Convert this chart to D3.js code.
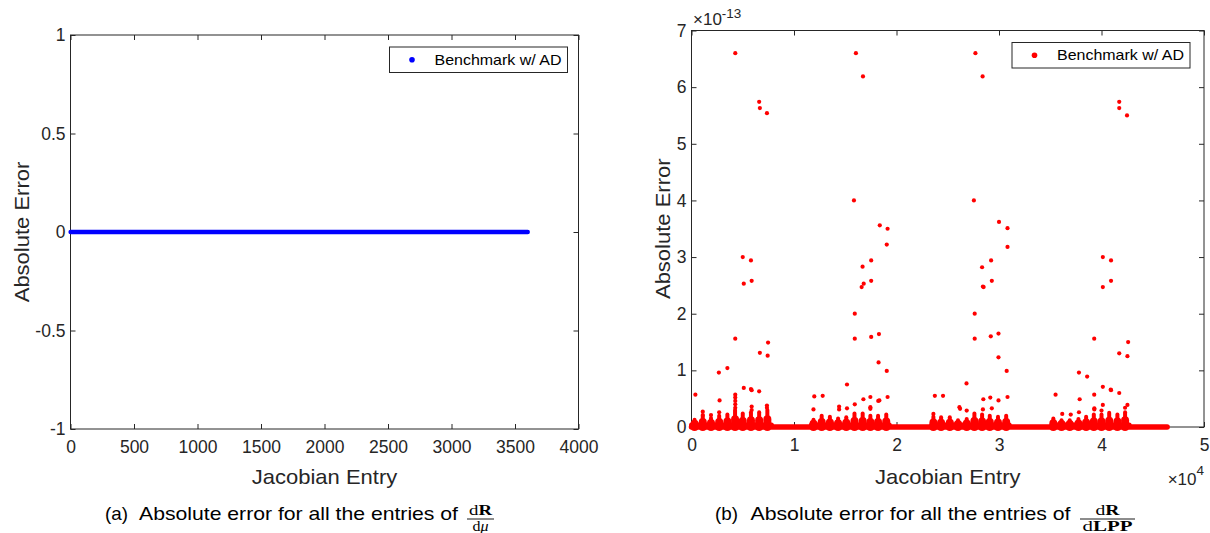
<!DOCTYPE html>
<html>
<head>
<meta charset="utf-8">
<script src="https://cdn.jsdelivr.net/npm/d3@7"></script>
<style>
body { margin: 0; background: #fff; }
text { font-family: "Liberation Sans", Arial, sans-serif; fill: #262626; }
text.math { font-family: "Liberation Serif", "Times New Roman", serif; fill: #000; }
text.cap { fill: #000; }
</style>
</head>
<body>
<svg id="fig" width="1210" height="533"></svg>
<script>
// ---------- data ----------
// (a) dR/dmu : every one of the 3600 Jacobian entries has zero error
const muEntryRange = [1, 3600];
const muError = 0;
const muTicksX = [0, 500, 1000, 1500, 2000, 2500, 3000, 3500, 4000];
const muTicksY = [-1, -0.5, 0, 0.5, 1];

// (b) dR/dLPP : entries in units of 1e4, errors in units of 1e-13
const lppEntryRange = [0.0001, 4.64];          // zero error everywhere as baseline
const lppTicksX = [0, 1, 2, 3, 4, 5];
const lppTicksY = [0, 1, 2, 3, 4, 5, 6, 7];
// four blocks of non-zero entries
const blockStart = [0.0, 1.17, 2.345, 3.52];
const blockEnd = [0.78, 1.93, 3.10, 4.27];
// dense little spikes inside the blocks (position, height of the solid part)
const spikePos = [
  0.03, 0.11, 0.19, 0.27, 0.35, 0.425, 0.50, 0.58, 0.66, 0.74,
  1.19, 1.27, 1.35, 1.43, 1.51, 1.59, 1.67, 1.745, 1.82, 1.90,
  2.36, 2.435, 2.52, 2.60, 2.685, 2.76, 2.835, 2.91, 2.99, 3.07,
  3.53, 3.61, 3.69, 3.775, 3.85, 3.925, 4.00, 4.075, 4.155, 4.23
];
const spikeHeight = [
  0.13, 0.20, 0.16, 0.20, 0.22, 0.30, 0.24, 0.26, 0.26, 0.30,
  0.13, 0.20, 0.18, 0.15, 0.17, 0.24, 0.24, 0.20, 0.20, 0.22,
  0.18, 0.17, 0.17, 0.12, 0.14, 0.24, 0.22, 0.20, 0.18, 0.20,
  0.15, 0.12, 0.12, 0.14, 0.18, 0.22, 0.22, 0.25, 0.22, 0.26
];
// isolated larger errors
const outlierX = [
  0.038, 0.427, 0.66, 0.667, 0.736, 0.50, 0.58, 0.51, 0.587, 0.427, 0.747, 0.667, 0.743, 0.267, 0.35,
  0.51, 0.58, 0.587, 0.66, 0.274, 0.427, 0.427, 0.427, 0.427, 0.427, 0.27, 0.11, 0.11, 0.19, 0.587, 0.587, 0.736, 0.736,
  1.198, 1.28, 1.19, 1.517, 1.604, 1.673, 1.585, 1.593, 1.593, 1.669, 1.68, 1.66, 1.753, 1.753, 1.837, 1.913,
  1.905, 1.753, 1.829, 1.825, 1.905, 1.913, 1.593, 1.677, 1.745, 1.822, 1.833, 1.44, 1.44, 1.517, 1.745, 1.745,
  2.374, 2.454, 2.683, 2.77, 2.84, 2.755, 2.763, 2.763, 2.835, 2.843, 2.85, 2.923, 2.93, 3.0, 3.083, 3.083,
  2.92, 2.995, 2.995, 3.075, 3.083, 2.847, 2.915, 2.995, 2.93, 2.614, 2.62, 2.843, 2.685, 2.36,
  3.552, 4.173, 4.173, 4.249, 4.013, 4.093, 4.013, 4.093, 3.929, 4.26, 4.173, 4.253, 3.78, 3.86, 4.013,
  4.09, 4.093, 4.173, 3.929, 3.787, 4.253, 4.013, 3.78, 3.93, 3.93, 3.617, 3.70, 4.00, 4.23
];
const outlierY = [
  0.57, 6.60, 5.74, 5.63, 5.54, 3.00, 2.94, 2.53, 2.58, 1.56, 1.49, 1.31, 1.26, 0.96, 1.04,
  0.69, 0.67, 0.65, 0.63, 0.47, 0.57, 0.52, 0.46, 0.40, 0.34, 0.26, 0.27, 0.21, 0.21, 0.36, 0.30, 0.38, 0.34,
  0.54, 0.55, 0.31, 0.75, 6.60, 6.19, 4.00, 2.00, 1.56, 2.83, 2.53, 2.47, 2.94, 2.58, 3.56, 3.50,
  3.22, 1.59, 1.64, 1.14, 0.99, 0.53, 0.40, 0.49, 0.53, 0.46, 0.47, 0.36, 0.31, 0.33, 0.35, 0.32,
  0.55, 0.55, 0.77, 6.60, 6.19, 4.00, 2.00, 1.56, 2.82, 2.48, 2.47, 2.94, 2.58, 3.62, 3.51, 3.18,
  1.60, 1.65, 1.23, 0.99, 0.53, 0.49, 0.52, 0.47, 0.33, 0.35, 0.32, 0.31, 0.29, 0.23,
  0.57, 5.74, 5.63, 5.50, 3.00, 2.94, 2.47, 2.58, 1.56, 1.50, 1.30, 1.25, 0.96, 0.89, 0.71,
  0.66, 0.65, 0.60, 0.57, 0.49, 0.39, 0.39, 0.26, 0.31, 0.33, 0.23, 0.22, 0.29, 0.34
];
const legendLabel = "Benchmark w/ AD";

// ---------- layout ----------
const axisColor = "#262626";
const panelA = {left: 70.5, right: 578.5, top: 35, bottom: 429};
const panelB = {left: 691.5, right: 1204, top: 30.5, bottom: 427};
const stretch = 1.1;   // the figure is a bit wider than tall

const svg = d3.select("#fig");

const xA = d3.scaleLinear().domain([0, 4000]).range([panelA.left, panelA.right]);
const yA = d3.scaleLinear().domain([-1, 1]).range([panelA.bottom, panelA.top]);
const xB = d3.scaleLinear().domain([0, 5]).range([panelB.left, panelB.right]);
const yB = d3.scaleLinear().domain([0, 7]).range([panelB.bottom, panelB.top]);

// box with inward ticks on all four sides, like MATLAB
function drawAxes(x, y, p, ticksX, ticksY) {
  const g = svg.append("g").attr("color", axisColor);
  const fmt = d => String(d);

  g.append("g").attr("transform", `translate(0,${p.bottom})`)
    .call(d3.axisBottom(x).tickValues(ticksX).tickFormat(fmt)
      .tickSizeInner(-5).tickSizeOuter(0).tickPadding(12));
  g.append("g").attr("transform", `translate(${p.left},0)`)
    .call(d3.axisLeft(y).tickValues(ticksY).tickFormat(fmt)
      .tickSizeInner(-5).tickSizeOuter(0).tickPadding(5));
  g.append("g").attr("transform", `translate(0,${p.top})`)
    .call(d3.axisTop(x).tickValues(ticksX).tickFormat("").tickSizeInner(-5).tickSizeOuter(0));
  g.append("g").attr("transform", `translate(${p.right},0)`)
    .call(d3.axisRight(y).tickValues(ticksY).tickFormat("").tickSizeInner(-5).tickSizeOuter(0));

  g.selectAll(".domain").remove();
  g.selectAll("g").attr("font-size", null).attr("font-family", null);
  g.selectAll(".tick text").style("font-size", "17.5px");

  g.append("rect")
    .attr("x", p.left).attr("y", p.top)
    .attr("width", p.right - p.left).attr("height", p.bottom - p.top)
    .attr("fill", "none").attr("stroke", axisColor).attr("stroke-width", 1);
}

function label(str, x, y, size, anchor, rotate) {
  return svg.append("text")
    .attr("transform", `translate(${x},${y})` + (rotate ? ` rotate(${rotate})` : "") + ` scale(${stretch},1)`)
    .attr("text-anchor", anchor)
    .attr("font-size", size)
    .text(str);
}

function legend(x0, y0, color) {
  const g = svg.append("g");
  g.append("rect").attr("x", x0).attr("y", y0).attr("width", 178).attr("height", 25.5)
    .attr("fill", "#fff").attr("stroke", axisColor).attr("stroke-width", 1);
  g.append("circle").attr("cx", x0 + 22.5).attr("cy", y0 + 12.7).attr("r", 2.8).attr("fill", color);
  g.append("text").attr("x", x0 + 45).attr("y", y0 + 17.8)
    .attr("font-size", 15).style("fill", "#000")
    .attr("textLength", 127).attr("lengthAdjust", "spacingAndGlyphs")
    .text(legendLabel);
}

// fraction in LaTeX style: parts are [text, weight, style]
function fraction(x0, x1, num, numWidth, den, denWidth) {
  const cx = (x0 + x1) / 2;
  const put = (parts, y, w) => {
    const t = svg.append("text").attr("class", "math").attr("x", cx).attr("y", y)
      .attr("text-anchor", "middle").attr("font-size", 14)
      .attr("textLength", w).attr("lengthAdjust", "spacingAndGlyphs");
    parts.forEach(p => t.append("tspan").attr("font-weight", p[1]).attr("font-style", p[2]).text(p[0]));
  };
  put(num, 515, numWidth);
  svg.append("line").attr("x1", x0).attr("x2", x1).attr("y1", 519).attr("y2", 519)
    .attr("stroke", "#000").attr("stroke-width", 0.9);
  put(den, 531, denWidth);
}

function caption(tag, x, xText, textWidth) {
  svg.append("text").attr("class", "cap").attr("x", x).attr("y", 520).attr("font-size", 18.5)
    .attr("textLength", 23).attr("lengthAdjust", "spacingAndGlyphs").text(tag);
  svg.append("text").attr("class", "cap").attr("x", xText).attr("y", 520).attr("font-size", 18.5)
    .attr("textLength", textWidth).attr("lengthAdjust", "spacingAndGlyphs")
    .text("Absolute error for all the entries of");
}

// ---------- panel (a) ----------
drawAxes(xA, yA, panelA, muTicksX, muTicksY);

svg.append("path")
  .datum(muEntryRange.map(e => [e, muError]))
  .attr("d", d3.line().x(d => xA(d[0])).y(d => yA(d[1])))
  .attr("stroke", "#0000ff").attr("stroke-width", 4.5).attr("stroke-linecap", "round").attr("fill", "none");

legend(389.5, 47, "#0000ff");
label("Absolute Error", 29, (panelA.top + panelA.bottom) / 2, 20, "middle", -90);
label("Jacobian Entry", (panelA.left + panelA.right) / 2, 484, 20, "middle");
caption("(a)", 105, 139, 319);
fraction(467, 494, [["d", "normal", "normal"], ["R", "bold", "normal"]], 23,
  [["d", "normal", "normal"], ["\u03bc", "normal", "italic"]], 16);

// ---------- panel (b) ----------
drawAxes(xB, yB, panelB, lppTicksX, lppTicksY);

const red = "#ff0000";
const marks = svg.append("g").attr("stroke", red).attr("stroke-linecap", "round").attr("fill", "none");

// zero-error entries
marks.append("path")
  .datum(lppEntryRange.map(e => [e, 0]))
  .attr("d", d3.line().x(d => xB(d[0])).y(d => yB(d[1])))
  .attr("stroke-width", 5.5);

// thicker ragged band inside each block
marks.selectAll("line.block").data(d3.zip(blockStart, blockEnd)).join("line")
  .attr("class", "block")
  .attr("x1", d => xB(d[0])).attr("x2", d => xB(d[1]))
  .attr("y1", yB(0.035)).attr("y2", yB(0.035))
  .attr("stroke-width", 5);

// spikes: wide foot and narrow stem
const spikes = d3.zip(spikePos, spikeHeight);
marks.selectAll("line.foot").data(spikes).join("line")
  .attr("class", "foot")
  .attr("x1", d => xB(d[0])).attr("x2", d => xB(d[0]))
  .attr("y1", yB(0)).attr("y2", d => yB(d[1] * 0.45))
  .attr("stroke-width", 8);
marks.selectAll("line.stem").data(spikes).join("line")
  .attr("class", "stem")
  .attr("x1", d => xB(d[0])).attr("x2", d => xB(d[0]))
  .attr("y1", yB(0)).attr("y2", d => yB(d[1]))
  .attr("stroke-width", 4);

svg.append("g").selectAll("circle").data(d3.zip(outlierX, outlierY)).join("circle")
  .attr("cx", d => xB(d[0])).attr("cy", d => yB(d[1]))
  .attr("r", 2.1).attr("fill", red);

legend(1012, 42.5, red);
label("Absolute Error", 670, (panelB.top + panelB.bottom) / 2, 20, "middle", -90);
label("Jacobian Entry", (panelB.left + panelB.right) / 2, 484, 20, "middle");

// exponent labels
const e4 = svg.append("text").attr("x", panelB.right).attr("y", 485).attr("text-anchor", "end").attr("font-size", 17);
e4.append("tspan").text("\u00d710");
e4.append("tspan").attr("dy", -10).attr("font-size", 13.5).text("4");
const e13 = svg.append("text").attr("x", 693).attr("y", 25).attr("font-size", 17);
e13.append("tspan").text("\u00d710");
e13.append("tspan").attr("dy", -7).attr("font-size", 13.5).text("-13");

caption("(b)", 715, 750.5, 320);
fraction(1080, 1135, [["d", "normal", "normal"], ["R", "bold", "normal"]], 24,
  [["d", "normal", "normal"], ["LPP", "bold", "normal"]], 50);
</script>
</body>
</html>
